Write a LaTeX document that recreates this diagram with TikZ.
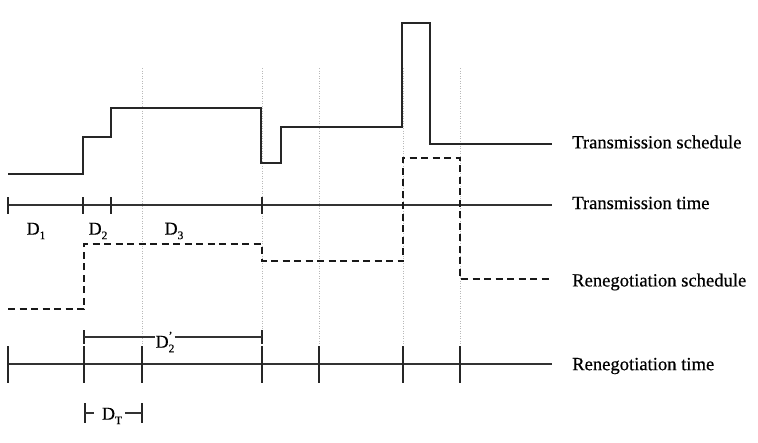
\documentclass[tikz,border=0pt]{standalone}
\usepackage{fontspec}
\setmainfont{Liberation Serif}
\newfontfamily\labfont[FakeBold=0.5]{Liberation Serif}
\newcommand{\mysub}[1]{\raisebox{-0.55ex}{\fontsize{11.5}{12}\selectfont #1}}
\newcommand{\myprime}{\rlap{\raisebox{1.0ex}{\fontsize{11.5}{12}\selectfont\textquoteright}}}
\begin{document}
\begin{tikzpicture}[x=1pt,y=-1pt,
  sched/.style={line width=1.2pt, black!85, line join=miter},
  dsched/.style={line width=1.4pt, black!90, dash pattern=on 7pt off 4.5pt},
  axisline/.style={line width=1.2pt, black!80},
  tickline/.style={line width=1.2pt, black!85},
  guide/.style={gray!55, line width=0.6pt, dash pattern=on 1pt off 1.5pt},
  lab/.style={font=\labfont\fontsize{18.6}{21}\selectfont, anchor=west, inner sep=0pt},
  dlab/.style={font=\labfont\fontsize{18}{20}\selectfont, inner sep=0pt}
]
\useasboundingbox (0,0) rectangle (758,442);

% guides
\foreach \x in {142,262,319,403,460} \draw[guide] (\x,68) -- (\x,346);

% transmission schedule
\draw[sched] (8,174) -- (83,174) -- (83,137) -- (111,137) -- (111,108) -- (261,108)
  -- (261,163) -- (281,163) -- (281,127) -- (402,127) -- (402,23) -- (430,23)
  -- (430,144) -- (552,144);

% transmission time
\draw[axisline] (8,205) -- (552,205);
\foreach \x in {8,83,111,262} \draw[tickline] (\x,197) -- (\x,214);

% renegotiation schedule
\draw[dsched] (8,309) -- (84,309) -- (84,244) -- (262,244) -- (262,261) -- (403,261)
  -- (403,158) -- (460,158) -- (460,279) -- (552,279);

% renegotiation time
\draw[axisline] (8,364) -- (552,364);
\foreach \x in {8,84,142,262,319,403,460} \draw[tickline] (\x,346) -- (\x,383);

% D labels
\node[dlab] (d1) at (36,231) {D\mysub{1}};
\node[dlab] (d2) at (98,231) {D\mysub{2}};
\node[dlab] (d3) at (174,231) {D\mysub{3}};

% D2' interval
\node[dlab] (d2p) at (165,342) {D\myprime\mysub{2}};
\draw[tickline] (84,330) -- (84,344);
\draw[tickline] (262,330) -- (262,344);
\draw[axisline] (84,337) -- (d2p.west |- 84,337);
\draw[axisline] (d2p.east |- 262,337) -- (262,337);

% DT interval
\node[dlab] (dt) at (112,416) {D\mysub{T}};
\draw[tickline] (85,403) -- (85,423);
\draw[tickline] (142,403) -- (142,423);
\draw[axisline] (85,413) -- (94,413);
\draw[axisline] (dt.east |- 142,413) ++(3,0) -- (142,413);

% right labels
\node[lab] (l1) at (572,142) {Transmission schedule};
\node[lab] (l2) at (572,203) {Transmission time};
\node[lab] (l3) at (572,282) {Renegotiation schedule};
\node[lab] (l4) at (572,366) {Renegotiation time};
\end{tikzpicture}
\end{document}
